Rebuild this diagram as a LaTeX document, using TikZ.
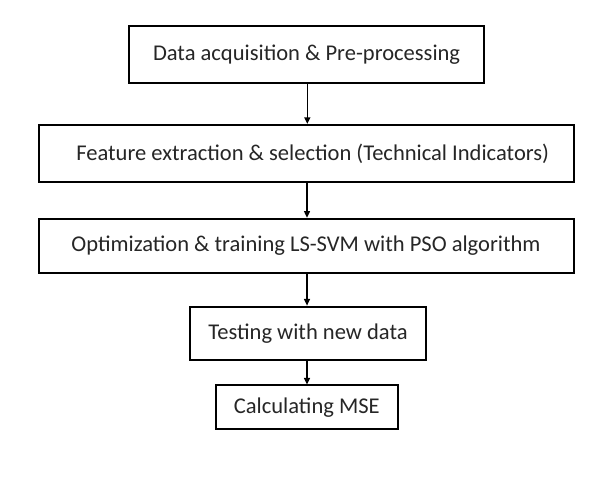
\documentclass[tikz,border=0pt]{standalone}
\usepackage{fontspec}
\setmainfont{Carlito}
\usetikzlibrary{arrows.meta}
\begin{document}
\begin{tikzpicture}[x=0.75pt,y=-0.75pt,
  box/.style={draw=black,line width=1.5pt,inner sep=0pt,font=\fontsize{16.9}{20}\selectfont,text=black!85},
  flow/.style={draw=black,line width=1.1pt,-{Triangle[length=5pt,width=4.5pt]}}]
\useasboundingbox (0,0) rectangle (611,477);
\fill[white] (0,0) rectangle (611,477);
\node[box,minimum width=354.7*0.75pt,minimum height=57*0.75pt] (b1) at (306.6,54.5) {Data acquisition \& Pre-processing};
\node[box,minimum width=535*0.75pt,minimum height=57.5*0.75pt] (b2) at (306,153.7) {\hspace*{10pt}Feature extraction \& selection (Technical Indicators)};
\node[box,minimum width=535*0.75pt,minimum height=54.6*0.75pt] (b3) at (306,246) {Optimization \& training LS-SVM with PSO algorithm};
\node[box,minimum width=236*0.75pt,minimum height=53.3*0.75pt] (b4) at (308,333.3) {Testing with new data};
\node[box,minimum width=181.7*0.75pt,minimum height=44*0.75pt] (b5) at (306.8,407.5) {Calculating MSE};
\draw[flow] (b1.south -| 307.3,0) -- (b2.north -| 307.3,0);
\draw[flow] (b2.south -| 307,0) -- (b3.north -| 307,0);
\draw[flow] (b3.south -| 307,0) -- (b4.north -| 307,0);
\draw[flow] (b4.south -| 307,0) -- (b5.north -| 307,0);
\end{tikzpicture}
\end{document}
